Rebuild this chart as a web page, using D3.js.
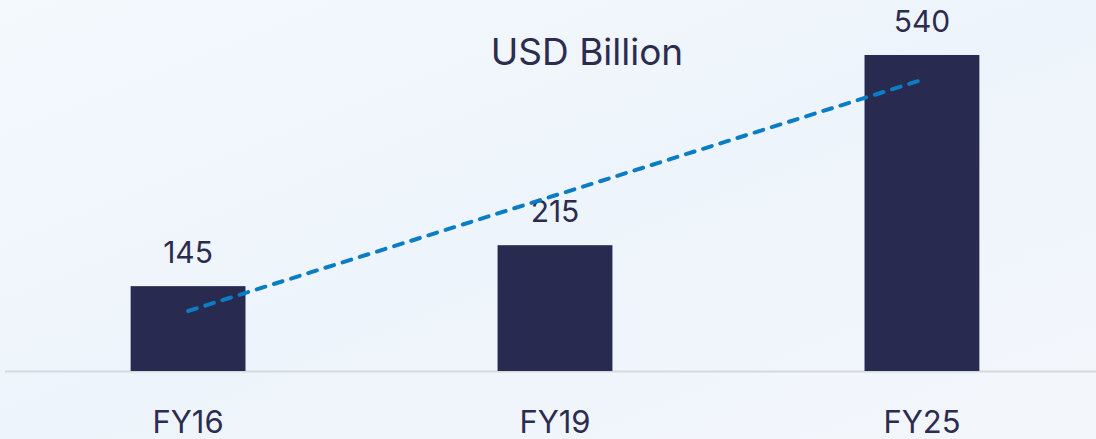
<!DOCTYPE html>
<html>
<head>
<meta charset="utf-8">
<script src="https://cdn.jsdelivr.net/npm/d3@7"></script>
<style>
  html, body { margin: 0; padding: 0; }
  body { width: 1096px; height: 439px; overflow: hidden; }
  text { font-family: Inter, "Open Sans", sans-serif; fill: #2b2c50; }
</style>
</head>
<body>
<svg id="svg"></svg>
<script>
var categories = ["FY16", "FY19", "FY25"];
var values = [145, 215, 540];
var unitLabel = "USD Billion";

var width = 1096,
    height = 439;

var svg = d3.select("#svg")
    .attr("width", width)
    .attr("height", height);

// soft background
var defs = svg.append("defs");
var grad = defs.append("linearGradient")
    .attr("id", "bg")
    .attr("x1", "0").attr("y1", "0")
    .attr("x2", "1").attr("y2", "1");
grad.append("stop").attr("offset", "0%").attr("stop-color", "#f4f9fe");
grad.append("stop").attr("offset", "50%").attr("stop-color", "#eef4fb");
grad.append("stop").attr("offset", "100%").attr("stop-color", "#f3f7fc");

svg.append("rect")
    .attr("width", width)
    .attr("height", height)
    .attr("fill", "url(#bg)");

var x = d3.scaleBand()
    .domain(categories)
    .range([0, 1110])
    .paddingInner(0.687)
    .paddingOuter(0.356);

var y = d3.scaleLinear()
    .domain([0, 540])
    .range([371, 55]);

// baseline
svg.append("line")
    .attr("x1", 5)
    .attr("x2", width)
    .attr("y1", y(0) + 0.5)
    .attr("y2", y(0) + 0.5)
    .attr("stroke", "#d6d9de")
    .attr("stroke-width", 2);

var data = categories.map(function(c, i) { return { cat: c, value: values[i] }; });

svg.append("g")
  .selectAll("rect")
  .data(data)
  .enter().append("rect")
    .attr("x", function(d) { return x(d.cat); })
    .attr("y", function(d) { return y(d.value); })
    .attr("width", x.bandwidth())
    .attr("height", function(d) { return y(0) - y(d.value); })
    .attr("fill", "#292a4f");

// value labels
svg.append("g")
  .selectAll("text")
  .data(data)
  .enter().append("text")
    .attr("x", function(d) { return x(d.cat) + x.bandwidth() / 2; })
    .attr("y", function(d) { return y(d.value) - 23; })
    .attr("text-anchor", "middle")
    .attr("font-size", 30)
    .text(function(d) { return d.value; });

// category labels
svg.append("g")
  .selectAll("text")
  .data(data)
  .enter().append("text")
    .attr("x", function(d) { return x(d.cat) + x.bandwidth() / 2; })
    .attr("y", 433)
    .attr("text-anchor", "middle")
    .attr("font-size", 31)
    .text(function(d) { return d.cat; });

// linear trendline (least squares on category index)
var n = values.length,
    mx = d3.mean(values, function(v, i) { return i; }),
    my = d3.mean(values),
    sxy = d3.sum(values, function(v, i) { return (i - mx) * (v - my); }),
    sxx = d3.sum(values, function(v, i) { return (i - mx) * (i - mx); }),
    slope = sxy / sxx,
    icpt = my - slope * mx;

var trend = [0, n - 1].map(function(i) {
  return { cat: categories[i], value: icpt + slope * i };
});

svg.append("path")
    .datum(trend)
    .attr("fill", "none")
    .attr("stroke", "#0a7dc4")
    .attr("stroke-width", 4)
    .attr("stroke-linecap", "round")
    .attr("stroke-dasharray", "9 9")
    .attr("d", d3.line()
        .x(function(d) { return x(d.cat) + x.bandwidth() / 2; })
        .y(function(d) { return y(d.value); }));

// unit title
svg.append("text")
    .attr("x", 587)
    .attr("y", 65)
    .attr("text-anchor", "middle")
    .attr("font-size", 37)
    .text(unitLabel);
</script>
</body>
</html>
